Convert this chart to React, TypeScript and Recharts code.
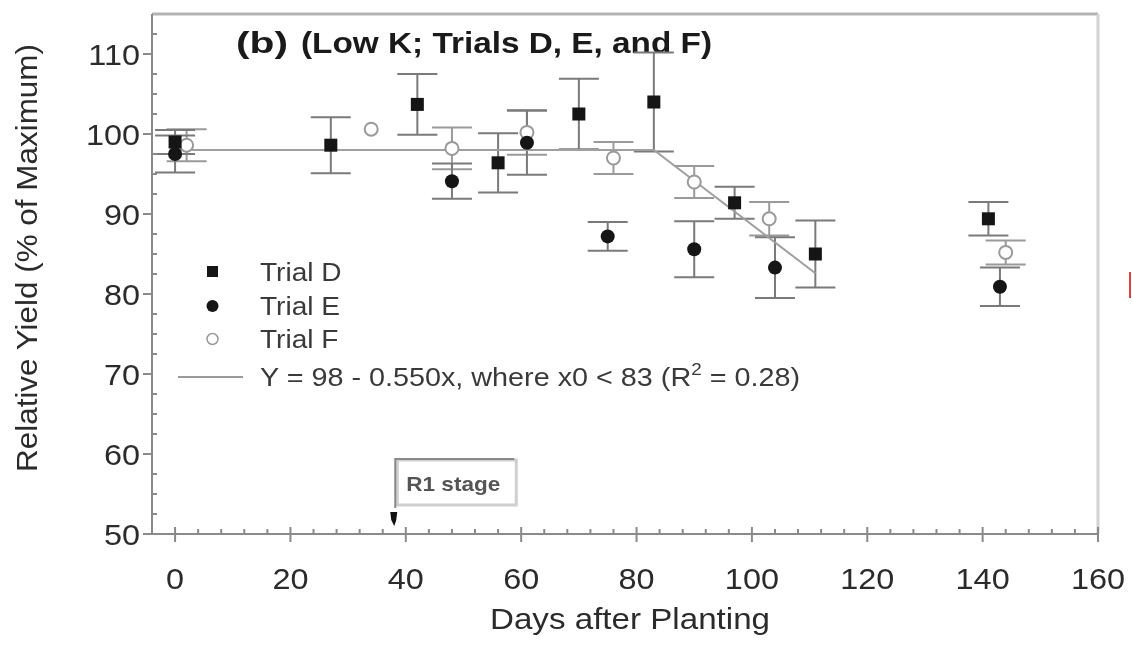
import { ScatterChart, Scatter, XAxis, YAxis, ErrorBar, ReferenceLine, ReferenceDot, Legend, Customized } from 'recharts';

// values: days after planting, relative yield (%), +/- error
const trialD = [
  { day: 0, yield: 99.0, err: 1.5 },
  { day: 27, yield: 98.6, err: 3.5 },
  { day: 42, yield: 103.7, err: 3.8 },
  { day: 56, yield: 96.4, err: 3.7 },
  { day: 70, yield: 102.5, err: 4.4 },
  { day: 83, yield: 104.0, err: 6.2 },
  { day: 97, yield: 91.4, err: 2.0 },
  { day: 111, yield: 85.0, err: 4.2 },
  { day: 141, yield: 89.4, err: 2.1 },
];

const trialE = [
  { day: 0, yield: 97.5, err: 2.3 },
  { day: 48, yield: 94.1, err: 2.2 },
  { day: 61, yield: 98.9, err: 4.0 },
  { day: 75, yield: 87.2, err: 1.8 },
  { day: 90, yield: 85.6, err: 3.5 },
  { day: 104, yield: 83.3, err: 3.8 },
  { day: 143, yield: 80.9, err: 2.4 },
];

const trialF = [
  { day: 2, yield: 98.6, err: 2.0 },
  { day: 34, yield: 100.6, err: 0 },
  { day: 48, yield: 98.2, err: 2.6 },
  { day: 61, yield: 100.2, err: 2.8 },
  { day: 76, yield: 97.0, err: 2.0 },
  { day: 90, yield: 94.0, err: 2.0 },
  { day: 103, yield: 89.4, err: 2.1 },
  { day: 144, yield: 85.2, err: 1.5 },
];

// broken-line fit, plateau then decline
const fitLine = [
  { day: 0, yield: 98 },
  { day: 83, yield: 98 },
  { day: 111, yield: 82.6 },
];

const xMajor = [0, 20, 40, 60, 80, 100, 120, 140, 160];
const yMajor = [50, 60, 70, 80, 90, 100, 110];
const xTicks = Array.from({ length: 41 }, (_, i) => i * 4);
const yTicks = Array.from({ length: 26 }, (_, i) => 50 + i * 2.5);

const legendItems = ['Trial D', 'Trial E', 'Trial F'];
const r1Day = 38;

const FONT = '"Liberation Sans", Arial, Helvetica, sans-serif';
const AXIS = '#8a8a8a';
const TXT = '#2b2b2b';
const SX = 1.08; // the scanned figure is a little wide

const XTick = ({ x, y, payload }: any) => {
  const major = xMajor.includes(payload.value);
  return (
    <g>
      {major
        ? <line x1={x} x2={x} y1={y - 7} y2={y + 8} stroke={AXIS} strokeWidth={2} />
        : <line x1={x} x2={x} y1={y - 5} y2={y} stroke={AXIS} strokeWidth={2} />}
      {major && (
        <text transform={`translate(${x} ${y + 55}) scale(${SX} 1)`} textAnchor="middle" fontSize={30} fill={TXT} fontFamily={FONT}>
          {payload.value}
        </text>
      )}
    </g>
  );
};

const YTick = ({ x, y, payload }: any) => {
  const major = yMajor.includes(payload.value);
  return (
    <g>
      {major
        ? <line x1={x - 9} x2={x} y1={y} y2={y} stroke={AXIS} strokeWidth={2} />
        : <line x1={x} x2={x + 5} y1={y} y2={y} stroke={AXIS} strokeWidth={2} />}
      {major && (
        <text transform={`translate(${x - 12} ${y}) scale(${SX} 1)`} dy="0.36em" textAnchor="end" fontSize={30} fill={TXT} fontFamily={FONT}>
          {payload.value}
        </text>
      )}
    </g>
  );
};

const squareShape = ({ cx, cy }: any) => <rect x={cx - 6.5} y={cy - 6.5} width={13} height={13} fill="#151515" />;
const dotShape = ({ cx, cy }: any) => <circle cx={cx} cy={cy} r={7} fill="#151515" />;
const openShape = ({ cx, cy }: any) => <circle cx={cx} cy={cy} r={6.5} fill="#fff" stroke="#9a9a9a" strokeWidth={2} />;
const noShape = () => <g />;

const r1Marker = ({ cx, cy }: any) => (
  <g>
    <path d={`M${cx - 4},${cy - 14} L${cx + 3},${cy - 14} L${cx + 2},${cy - 6} L${cx},${cy} L${cx - 3},${cy - 6} Z`} fill="#111" />
    <rect x={cx + 3} y={cy - 66} width={119} height={45} fill="#fff" stroke="#cfcfcf" strokeWidth={3} />
    <path d={`M${cx + 1},${cy - 18} L${cx + 1},${cy - 67} L${cx + 120},${cy - 67}`} fill="none" stroke="#8a8a8a" strokeWidth={2} />
    <text x={cx + 12} y={cy - 35} fontSize={21} fill="#555" fontFamily={FONT} fontWeight="bold" textLength={94} lengthAdjust="spacingAndGlyphs">R1 stage</text>
  </g>
);

const LegendBox = () => (
  <svg width={700} height={150} fontFamily={FONT}>
    <rect x={29} y={11} width={11} height={11} fill="#151515" />
    <circle cx={34.5} cy={51} r={6} fill="#151515" />
    <circle cx={34.5} cy={84} r={5.5} fill="#fff" stroke="#999" strokeWidth={1.5} />
    <line x1={0} x2={65} y1={122} y2={122} stroke="#9a9a9a" strokeWidth={2} />
    {legendItems.map((name, i) => (
      <text key={name} transform={`translate(82 ${17 + i * 33.5}) scale(${SX} 1)`} dy="0.36em" fontSize={26} fill="#3a3a3a">
        {name}
      </text>
    ))}
    <text x={82} y={122} dy="0.36em" fontSize={26} fill="#3a3a3a" textLength={540} lengthAdjust="spacingAndGlyphs">
      Y = 98 - 0.550x, where x0 &lt; 83 (R<tspan dy={-11} fontSize={17}>2</tspan><tspan dy={11}> = 0.28)</tspan>
    </text>
  </svg>
);

const Texts = () => (
  <g fontFamily={FONT}>
    <text x={236} y={53} fontSize={30} fontWeight="bold" fill="#1a1a1a" textLength={52} lengthAdjust="spacingAndGlyphs">(b)</text>
    <text x={301} y={53} fontSize={29} fontWeight="bold" fill="#1a1a1a" textLength={411} lengthAdjust="spacingAndGlyphs">(Low K; Trials D, E, and F)</text>
    <text x={630} y={629} textAnchor="middle" fontSize={30} fill={TXT} textLength={280} lengthAdjust="spacingAndGlyphs">Days after Planting</text>
    <text x={37} y={258} textAnchor="middle" fontSize={30} fill={TXT} transform="rotate(-90 37 258)" textLength={428} lengthAdjust="spacingAndGlyphs">
      Relative Yield (% of Maximum)
    </text>
  </g>
);

export default function App() {
  return (
    <div style={{ position: 'absolute', left: 0, top: 0, width: 1132, height: 654, background: '#fff', filter: 'blur(0.45px)' }}>
      <ScatterChart width={1132} height={654} margin={{ top: 14, right: 34, bottom: 0, left: 0 }}>
        <XAxis
          type="number"
          dataKey="day"
          domain={[-4, 160]}
          ticks={xTicks}
          interval={0}
          tick={XTick}
          tickLine={false}
          tickSize={0}
          tickMargin={0}
          height={120}
          axisLine={{ stroke: AXIS, strokeWidth: 2 }}
        />
        <YAxis
          type="number"
          dataKey="yield"
          domain={[50, 115]}
          ticks={yTicks}
          interval={0}
          tick={YTick}
          tickLine={false}
          tickSize={0}
          tickMargin={0}
          width={152}
          axisLine={{ stroke: AXIS, strokeWidth: 2 }}
        />
        <ReferenceLine y={115} stroke="#b3b3b3" strokeWidth={3} />
        <ReferenceLine x={160} stroke="#d2d2d2" strokeWidth={3} />
        <Scatter name="fit" data={fitLine} line={{ stroke: '#a0a0a0', strokeWidth: 2 }} shape={noShape} isAnimationActive={false} legendType="none" />
        <Scatter name="Trial F" data={trialF} shape={openShape} isAnimationActive={false}>
          <ErrorBar dataKey="err" direction="y" width={20} stroke="#9a9a9a" strokeWidth={2} />
        </Scatter>
        <Scatter name="Trial E" data={trialE} shape={dotShape} isAnimationActive={false}>
          <ErrorBar dataKey="err" direction="y" width={20} stroke="#7a7a7a" strokeWidth={2} />
        </Scatter>
        <Scatter name="Trial D" data={trialD} shape={squareShape} isAnimationActive={false}>
          <ErrorBar dataKey="err" direction="y" width={20} stroke="#7a7a7a" strokeWidth={2} />
        </Scatter>
        <ReferenceDot x={r1Day} y={51} r={0} shape={r1Marker} />
        <Legend
          layout="vertical"
          align="center"
          verticalAlign="middle"
          content={LegendBox}
          wrapperStyle={{ left: 178, top: 255, width: 700, height: 150 }}
        />
        <Customized component={Texts} />
      </ScatterChart>
      <div style={{ position: 'absolute', left: 1129, top: 272, width: 2, height: 26, background: '#e04040' }} />
    </div>
  );
}
